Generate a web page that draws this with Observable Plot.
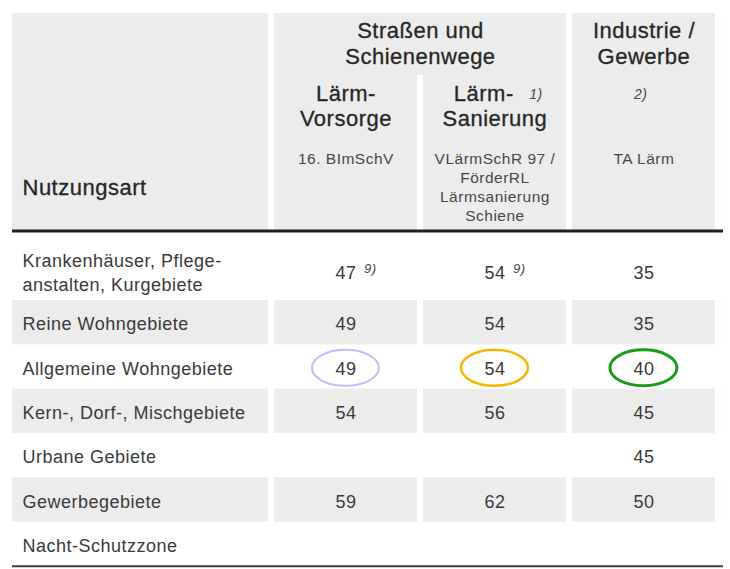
<!DOCTYPE html>
<html>
<head>
<meta charset="utf-8">
<script src="https://cdn.jsdelivr.net/npm/d3@7"></script>
<script src="https://cdn.jsdelivr.net/npm/@observablehq/plot@0.6"></script>
<style>
  html, body { margin: 0; padding: 0; background: #fff; }
  #chart svg { display: block; }
</style>
</head>
<body>
<div id="chart"></div>
<script>
// ---------------- data ----------------
const groups = ["Straßen und\nSchienenwege", "Industrie /\nGewerbe"];
const groupColumns = [[1, 3], [3, 4]];           // column index ranges spanned by each group
const titleTop = ["Lärm-", "Lärm-", ""];
const titleBottom = ["Vorsorge", "Sanierung", ""];
const columnNotes = ["", "1)", "2)"];
const regulations = ["16. BImSchV", "VLärmSchR 97 /\nFörderRL\nLärmsanierung\nSchiene", "TA Lärm"];
const rowHeader = "Nutzungsart";
const categories = [
  "Krankenhäuser, Pflege-\nanstalten, Kurgebiete",
  "Reine Wohngebiete",
  "Allgemeine Wohngebiete",
  "Kern-, Dorf-, Mischgebiete",
  "Urbane Gebiete",
  "Gewerbegebiete",
  "Nacht-Schutzzone"
];
const vorsorge  = [47, 49, 49, 54, null, 59, null];
const sanierung = [54, 54, 54, 56, null, 62, null];
const industrie = [35, 35, 40, 45, 45, 50, null];
const vorsorgeNotes  = ["9)", "", "", "", "", "", ""];
const sanierungNotes = ["9)", "", "", "", "", "", ""];
const industrieNotes = ["", "", "", "", "", "", ""];
const highlighted = "Allgemeine Wohngebiete";

// ---------------- layout (scale units) ----------------
// x: one unit = one value column; y: one unit = one body row
const colEdges = [0, 1.758, 2.758, 3.758, 4.758, 4.80];
const xMax = 4.839, yMax = 12.551;
const headerTop = 0, groupBottom = 1.4, headerBottom = 4.91;
const firstRowTop = 5.17, rowsTop = 6.479;
const tableLeft = 0.02, tableRight = 4.792;
const rowY1 = i => i === 0 ? firstRowTop : rowsTop + i - 1;
const rowY2 = i => rowsTop + i;
const colCenter = k => (colEdges[k] + colEdges[k + 1]) / 2;

// styles
const gray = "#ececec";
const headInk = "#262626", bodyInk = "#3a3a3a", smallInk = "#474747";
const highlightStyles = [
  {stroke: "#c4bcf6", width: 2},
  {stroke: "#f4b800", width: 2.5},
  {stroke: "#1b9b1b", width: 3}
];
const font = "'Liberation Sans', Arial, sans-serif";

// ---------------- derived tables ----------------
const headerCells = [
  {x1: colEdges[0], x2: colEdges[1], y1: headerTop, y2: headerBottom},
  ...groupColumns.map(([a, b]) => ({x1: colEdges[a], x2: colEdges[b], y1: headerTop, y2: groupBottom})),
  {x1: colEdges[1], x2: colEdges[2], y1: groupBottom, y2: headerBottom},
  {x1: colEdges[2], x2: colEdges[3], y1: groupBottom, y2: headerBottom},
  {x1: colEdges[3], x2: colEdges[4], y1: groupBottom, y2: headerBottom},
  {x1: colEdges[4], x2: colEdges[5], y1: headerTop, y2: headerBottom}
];

const stripeCells = categories.flatMap((c, i) => i % 2 === 1
  ? [0, 1, 2, 3, 4].map(k => ({x1: colEdges[k], x2: colEdges[k + 1], y1: rowY1(i), y2: rowY2(i)}))
  : []);

const series = [vorsorge, sanierung, industrie];
const seriesNotes = [vorsorgeNotes, sanierungNotes, industrieNotes];
const valueCells = categories.flatMap((c, i) => series.map((s, j) => ({
  x: colCenter(j + 1), y: (rowY1(i) + rowY2(i)) / 2, v: s[i], note: seriesNotes[j][i]
}))).filter(d => d.v != null);

const hi = categories.indexOf(highlighted);
const highlightCells = highlightStyles.map((st, j) => ({
  x1: colEdges[j + 1], x2: colEdges[j + 2], y1: rowY1(hi), y2: rowY2(hi), stroke: st.stroke, sw: st.width
}));

// ---------------- plot ----------------
const chart = Plot.plot({
  width: 730,
  height: 569,
  marginTop: 0, marginRight: 0, marginBottom: 0, marginLeft: 0,
  x: {type: "linear", domain: [0, xMax], range: [9, 730], axis: null},
  y: {type: "linear", domain: [0, yMax], range: [13, 569], axis: null},
  color: {type: "identity"},
  style: {fontFamily: font, background: "#fff", letterSpacing: "0.5px", overflow: "hidden"},
  marks: [
    // gray cells
    Plot.rect(headerCells, {x1: "x1", x2: "x2", y1: "y1", y2: "y2", fill: gray, insetLeft: 3, insetRight: 3}),
    Plot.rect(stripeCells, {x1: "x1", x2: "x2", y1: "y1", y2: "y2", fill: gray, insetLeft: 3, insetRight: 3}),
    // rules
    Plot.ruleY([headerBottom], {x1: tableLeft, x2: tableRight, stroke: "#1e1e1e", strokeWidth: 3}),
    Plot.ruleY([rowY2(categories.length - 1)], {x1: tableLeft, x2: tableRight, stroke: "#3e3e3e", strokeWidth: 2}),
    // group headers
    Plot.text(groups, {
      x: (d, i) => (colEdges[groupColumns[i][0]] + colEdges[groupColumns[i][1]]) / 2,
      y: 0.14, text: d => d, lineAnchor: "top", lineHeight: 1.18,
      fontSize: 22, fill: headInk, stroke: headInk, strokeWidth: 0.3, fontFamily: font
    }),
    // column titles
    Plot.text(titleTop, {
      x: (d, i) => colCenter(i + 1) - (columnNotes[i] && d ? 0.075 : 0),
      y: 1.625, text: d => d, lineAnchor: "top",
      fontSize: 22, fill: headInk, stroke: headInk, strokeWidth: 0.3, fontFamily: font
    }),
    Plot.text(titleBottom, {
      x: (d, i) => colCenter(i + 1),
      y: 2.19, text: d => d, lineAnchor: "top",
      fontSize: 22, fill: headInk, stroke: headInk, strokeWidth: 0.3, fontFamily: font
    }),
    Plot.text(columnNotes, {
      x: (d, i) => colCenter(i + 1) + (titleTop[i] ? 0.23 : -0.067),
      y: 1.71, text: d => d, lineAnchor: "top", textAnchor: "start",
      fontSize: 14, fontStyle: "italic", fill: smallInk, fontFamily: font
    }),
    // regulations
    Plot.text(regulations, {
      x: (d, i) => colCenter(i + 1),
      y: 3.085, text: d => d, lineAnchor: "top", lineHeight: 1.23,
      fontSize: 15.5, fill: smallInk, fontFamily: font
    }),
    // row header
    Plot.text([rowHeader], {
      x: colEdges[0], y: 3.747, text: d => d, dx: 13, lineAnchor: "top", textAnchor: "start",
      fontSize: 22, fill: headInk, stroke: headInk, strokeWidth: 0.3, fontFamily: font
    }),
    // category labels
    Plot.text(categories, {
      x: colEdges[0], y: (d, i) => (rowY1(i) + rowY2(i)) / 2, text: d => d,
      dx: 13, dy: 0, textAnchor: "start", lineHeight: 1.33,
      fontSize: 18, fill: bodyInk, fontFamily: font
    }),
    // values
    Plot.text(valueCells, {
      x: "x", y: "y", text: d => String(d.v), dy: 2,
      fontSize: 18, fill: bodyInk, fontFamily: font
    }),
    Plot.text(valueCells.filter(d => d.note), {
      x: "x", y: "y", text: "note", dx: 18, dy: -3, textAnchor: "start",
      fontSize: 13, fontStyle: "italic", fill: smallInk, fontFamily: font
    }),
    // highlight ellipses
    Plot.rect(highlightCells, {
      x1: "x1", x2: "x2", y1: "y1", y2: "y2",
      stroke: "stroke", strokeWidth: "sw", fill: "none",
      insetLeft: 41, insetRight: 41, insetTop: 5.5, insetBottom: 2.8, rx: 33.5, ry: 18
    })
  ]
});
document.getElementById("chart").appendChild(chart);
</script>
</body>
</html>
